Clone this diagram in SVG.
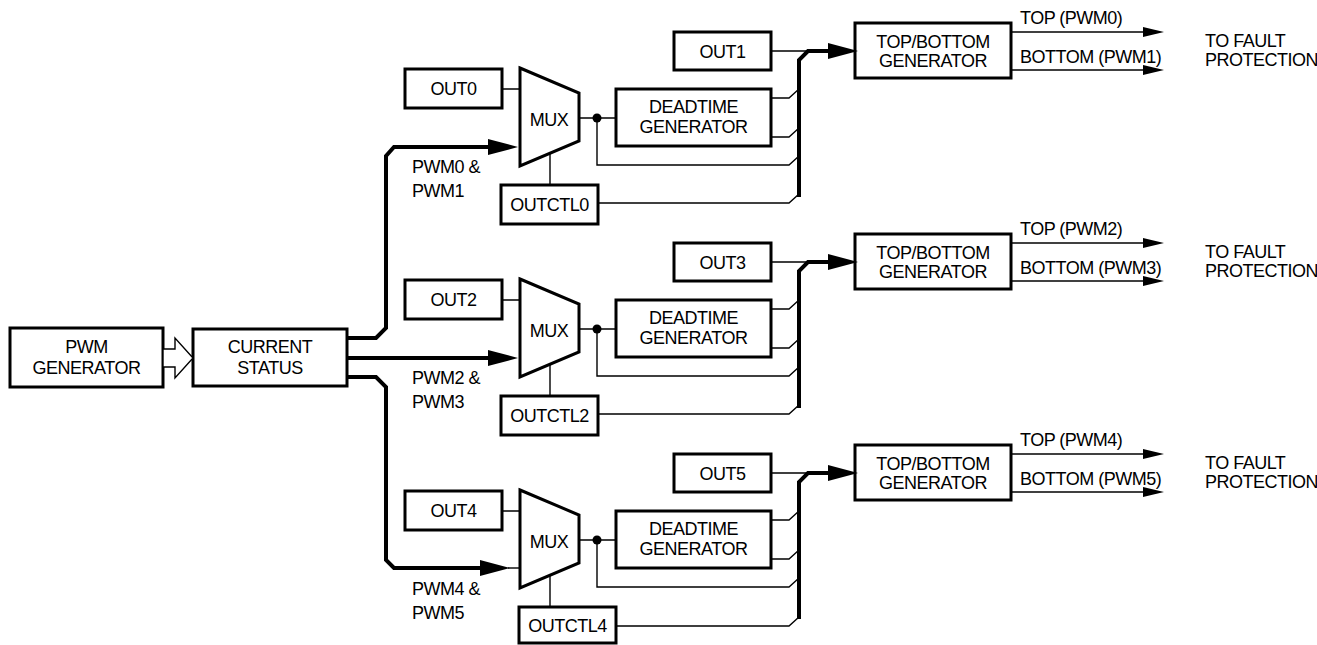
<svg xmlns="http://www.w3.org/2000/svg" width="1317" height="645" viewBox="0 0 1317 645">
<style>
.box{fill:#fff;stroke:#000;stroke-width:3}
.t{font-family:"Liberation Sans",Arial,sans-serif;font-size:18px;letter-spacing:-0.5px;fill:#000}
.c{text-anchor:middle}
.thin{fill:none;stroke:#000;stroke-width:1.4}
.thick{fill:none;stroke:#000;stroke-width:4}
</style>
<defs>
<marker id="ahThick" markerUnits="userSpaceOnUse" markerWidth="30" markerHeight="16" refX="0" refY="8" orient="auto" overflow="visible"><path d="M0,0 L30,8 L0,16 z" fill="#000"/></marker>
<marker id="ahThin" markerUnits="userSpaceOnUse" markerWidth="21" markerHeight="10" refX="0" refY="5" orient="auto" overflow="visible"><path d="M0,0 L21,5 L0,10 z" fill="#000"/></marker>
</defs>

<g id="pwm-generator"><rect class="box" x="10" y="328" width="153" height="59"/><text class="t c" x="86.5" y="353">PWM</text><text class="t c" x="86.5" y="374">GENERATOR</text></g>
<g id="current-status"><rect class="box" x="193" y="329" width="154" height="57"/><text class="t c" x="270" y="353">CURRENT</text><text class="t c" x="270" y="374">STATUS</text></g>

<g id="section0">
<g id="out0"><rect class="box" x="405" y="69" width="97" height="39"/><text class="t c" x="453.5" y="95">OUT0</text></g>
<g id="mux0"><polygon class="box" points="520,68 579,93 579,141 520,166"/><text class="t c" x="549" y="126">MUX</text></g>
<g id="outctl0"><rect class="box" x="501" y="185" width="97" height="39"/><text class="t c" x="549.5" y="211">OUTCTL0</text></g>
<g id="deadtime0"><rect class="box" x="616" y="89" width="155" height="57"/><text class="t c" x="693.5" y="113">DEADTIME</text><text class="t c" x="693.5" y="133">GENERATOR</text></g>
<g id="out1"><rect class="box" x="674" y="32" width="97" height="38"/><text class="t c" x="722.5" y="58">OUT1</text></g>
<g id="tb0"><rect class="box" x="855" y="23" width="156" height="55"/><text class="t c" x="933" y="48">TOP/BOTTOM</text><text class="t c" x="933" y="67">GENERATOR</text></g>
<g id="labels0"><text class="t" x="412" y="173">PWM0 &amp;</text><text class="t" x="412" y="197">PWM1</text><text class="t" x="1020" y="24">TOP (PWM0)</text><text class="t" x="1020" y="63">BOTTOM (PWM1)</text><text class="t" x="1205" y="47">TO FAULT</text><text class="t" x="1205" y="66">PROTECTION</text></g>
<g id="connectors0">
<path class="thin" d="M502,89 H520 M550,153 V185 M579,118 H616 M597,118 V165 H789 L799,156 M771,98 H789 L799,89 M771,137 H789 L799,128 M598,203 H789 L799,194 M771,51 H808"/>
<circle cx="597" cy="118" r="4.5" fill="#000"/>
<path class="thick" d="M799,197 V60 L808,51 H828" marker-end="url(#ahThick)"/>
<path class="thin" d="M1011,32 H1143" marker-end="url(#ahThin)"/>
<path class="thin" d="M1011,70 H1143" marker-end="url(#ahThin)"/>
</g>
</g>

<g id="section1" transform="translate(0,211)">
<g id="out2"><rect class="box" x="405" y="69" width="97" height="39"/><text class="t c" x="453.5" y="95">OUT2</text></g>
<g id="mux1"><polygon class="box" points="520,68 579,93 579,141 520,166"/><text class="t c" x="549" y="126">MUX</text></g>
<g id="outctl2"><rect class="box" x="501" y="185" width="97" height="39"/><text class="t c" x="549.5" y="211">OUTCTL2</text></g>
<g id="deadtime1"><rect class="box" x="616" y="89" width="155" height="57"/><text class="t c" x="693.5" y="113">DEADTIME</text><text class="t c" x="693.5" y="133">GENERATOR</text></g>
<g id="out3"><rect class="box" x="674" y="32" width="97" height="38"/><text class="t c" x="722.5" y="58">OUT3</text></g>
<g id="tb1"><rect class="box" x="855" y="23" width="156" height="55"/><text class="t c" x="933" y="48">TOP/BOTTOM</text><text class="t c" x="933" y="67">GENERATOR</text></g>
<g id="labels1"><text class="t" x="412" y="173">PWM2 &amp;</text><text class="t" x="412" y="197">PWM3</text><text class="t" x="1020" y="24">TOP (PWM2)</text><text class="t" x="1020" y="63">BOTTOM (PWM3)</text><text class="t" x="1205" y="47">TO FAULT</text><text class="t" x="1205" y="66">PROTECTION</text></g>
<g id="connectors1">
<path class="thin" d="M502,89 H520 M550,153 V185 M579,118 H616 M597,118 V165 H789 L799,156 M771,98 H789 L799,89 M771,137 H789 L799,128 M598,203 H789 L799,194 M771,51 H808"/>
<circle cx="597" cy="118" r="4.5" fill="#000"/>
<path class="thick" d="M799,197 V60 L808,51 H828" marker-end="url(#ahThick)"/>
<path class="thin" d="M1011,32 H1143" marker-end="url(#ahThin)"/>
<path class="thin" d="M1011,70 H1143" marker-end="url(#ahThin)"/>
</g>
</g>

<g id="section2" transform="translate(0,422)">
<g id="out4"><rect class="box" x="405" y="69" width="97" height="39"/><text class="t c" x="453.5" y="95">OUT4</text></g>
<g id="mux2"><polygon class="box" points="520,68 579,93 579,141 520,166"/><text class="t c" x="549" y="126">MUX</text></g>
<g id="outctl4"><rect class="box" x="519" y="185" width="97" height="36"/><text class="t c" x="567.5" y="210">OUTCTL4</text></g>
<g id="deadtime2"><rect class="box" x="616" y="89" width="155" height="57"/><text class="t c" x="693.5" y="113">DEADTIME</text><text class="t c" x="693.5" y="133">GENERATOR</text></g>
<g id="out5"><rect class="box" x="674" y="32" width="97" height="38"/><text class="t c" x="722.5" y="58">OUT5</text></g>
<g id="tb2"><rect class="box" x="855" y="23" width="156" height="55"/><text class="t c" x="933" y="48">TOP/BOTTOM</text><text class="t c" x="933" y="67">GENERATOR</text></g>
<g id="labels2"><text class="t" x="412" y="173">PWM4 &amp;</text><text class="t" x="412" y="197">PWM5</text><text class="t" x="1020" y="24">TOP (PWM4)</text><text class="t" x="1020" y="63">BOTTOM (PWM5)</text><text class="t" x="1205" y="47">TO FAULT</text><text class="t" x="1205" y="66">PROTECTION</text></g>
<g id="connectors2">
<path class="thin" d="M502,89 H520 M550,153 V185 M579,118 H616 M597,118 V165 H789 L799,156 M771,98 H789 L799,89 M771,137 H789 L799,128 M616,204 H789 L799,195 M771,51 H808"/>
<circle cx="597" cy="118" r="4.5" fill="#000"/>
<path class="thick" d="M799,197 V60 L808,51 H828" marker-end="url(#ahThick)"/>
<path class="thin" d="M1011,32 H1143" marker-end="url(#ahThin)"/>
<path class="thin" d="M1011,70 H1143" marker-end="url(#ahThin)"/>
</g>
</g>

<g id="connectors">
<polygon points="163,349 175,349 175,338 193,358 175,378 175,367 163,367" fill="#fff" stroke="#000" stroke-width="1.4" stroke-linejoin="miter"/>
<path class="thick" d="M347,338 H376 L386,328 V156 L394,147 H488" marker-end="url(#ahThick)"/>
<path class="thick" d="M347,358 H488" marker-end="url(#ahThick)"/>
<path class="thick" d="M347,377 H376 L386,387 V560 L394,568 H480" marker-end="url(#ahThick)"/>
<path class="thin" d="M508,568 H520"/>
</g>
</svg>
